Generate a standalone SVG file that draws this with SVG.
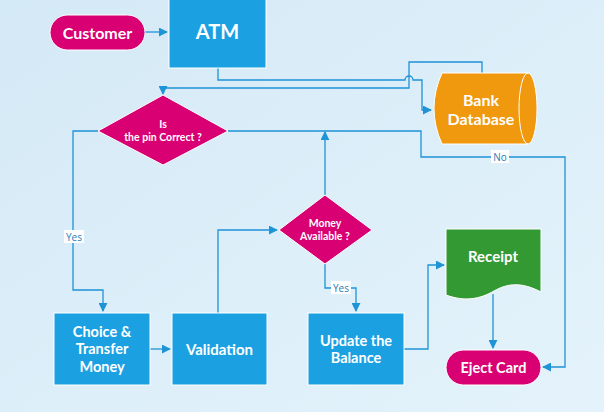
<svg xmlns="http://www.w3.org/2000/svg" width="604" height="412" viewBox="0 0 604 412">
<defs>
<linearGradient id="bg" x1="0" y1="0" x2="1" y2="1">
<stop offset="0" stop-color="#D4E9F6"/>
<stop offset="1" stop-color="#E4F3FB"/>
</linearGradient>
<marker id="ah" viewBox="0 0 10 10" refX="9" refY="5" markerWidth="9" markerHeight="9" markerUnits="userSpaceOnUse" orient="auto">
<path d="M0,0 L10,5 L0,10 Z" fill="#1E93D6"/>
</marker>
<style>
.t{font-family:Lato,"Open Sans","Noto Sans",sans-serif;font-weight:bold;fill:#fff;text-anchor:middle;dominant-baseline:central}
.blue{fill:#1BA1E2;stroke:#fff;stroke-width:1}
.mag{fill:#D80073;stroke:#fff;stroke-width:1}
.c{fill:none;stroke:#1E93D6;stroke-width:1.3}
.lbl{font-family:"Open Sans","Noto Sans",sans-serif;font-size:10px;fill:#2C7DB5;text-anchor:middle;dominant-baseline:central}
</style>
</defs>
<rect width="604" height="412" fill="url(#bg)"/>

<g id="connectors">
<path class="c" d="M145,32 H167" marker-end="url(#ah)"/>
<path class="c" d="M218,68 V80 H405 A4,4 0 0 1 413,80 H422 V110 H431" marker-end="url(#ah)"/>
<path class="c" d="M482,73 V62 H409 V88 H163 V94" marker-end="url(#ah)"/>
<path class="c" d="M98,131 H73 V290 H103 V311" marker-end="url(#ah)"/>
<rect x="64" y="230" width="20" height="13" fill="#fff"/>
<text class="lbl" x="74" y="236.5">Yes</text>
<path class="c" d="M228,131 H421 V157 H565 V367 H543" marker-end="url(#ah)"/>
<rect x="491" y="150" width="18" height="13" fill="#fff"/>
<text class="lbl" x="500" y="156.5">No</text>
<path class="c" d="M325,195 V132" marker-end="url(#ah)"/>
<path class="c" d="M218,313 V230 H277" marker-end="url(#ah)"/>
<path class="c" d="M325,264 V288 H356 V311" marker-end="url(#ah)"/>
<rect x="331" y="281" width="20" height="13" fill="#fff"/>
<text class="lbl" x="341" y="287.5">Yes</text>
<path class="c" d="M150,349 H170" marker-end="url(#ah)"/>
<path class="c" d="M404,349 H428 V265 H444" marker-end="url(#ah)"/>
<path class="c" d="M493,294 V348" marker-end="url(#ah)"/>
</g>

<g id="customer">
<rect class="mag" x="50" y="15" width="95" height="35" rx="17.5"/>
<text class="t" x="97.5" y="32" font-size="16">Customer</text>
</g>
<g id="atm">
<rect class="blue" x="169" y="-2" width="97" height="70"/>
<text class="t" x="217.5" y="31" font-size="20">ATM</text>
</g>
<g id="bank-database">
<path d="M442,73 H528 A9,35.5 0 0 1 528,144 H442 Q426,108.5 442,73 Z" fill="#F0980E" stroke="#fff" stroke-width="1"/>
<path d="M528,73 A9,35.5 0 0 0 528,144" fill="none" stroke="#fff" stroke-width="1"/>
<text class="t" x="481" y="99" font-size="16">Bank</text>
<text class="t" x="481" y="118" font-size="16">Database</text>
</g>
<g id="pin-check">
<polygon class="mag" points="163,95 228,131 163,165 98,131"/>
<text class="t" x="163" y="124" font-size="10.5">Is</text>
<text class="t" x="163" y="137" font-size="10.5">the pin Correct ?</text>
</g>
<g id="money-available">
<polygon class="mag" points="325,195 372,230 325,264 279,230"/>
<text class="t" x="325" y="223" font-size="10.5">Money</text>
<text class="t" x="325" y="236" font-size="10.5">Available ?</text>
</g>
<g id="choice-transfer">
<rect class="blue" x="54" y="313" width="96" height="72"/>
<text class="t" x="102" y="331" font-size="14.5">Choice &amp;</text>
<text class="t" x="102" y="348" font-size="14.5">Transfer</text>
<text class="t" x="102" y="366" font-size="14.5">Money</text>
</g>
<g id="validation">
<rect class="blue" x="172" y="313" width="95" height="72"/>
<text class="t" x="219.5" y="349" font-size="15">Validation</text>
</g>
<g id="update-balance">
<rect class="blue" x="308" y="313" width="96" height="72"/>
<text class="t" x="356" y="340" font-size="14.5">Update the</text>
<text class="t" x="356" y="357" font-size="14.5">Balance</text>
</g>
<g id="receipt">
<path d="M446,229 H541 V292 C522,282 508,283 494,291 C480,299 465,302 446,295 Z" fill="#339933" stroke="#fff" stroke-width="1"/>
<text class="t" x="493" y="256" font-size="15">Receipt</text>
</g>
<g id="eject-card">
<rect class="mag" x="446" y="350" width="95" height="35" rx="17.5"/>
<text class="t" x="493.5" y="367" font-size="14.5">Eject Card</text>
</g>
</svg>
